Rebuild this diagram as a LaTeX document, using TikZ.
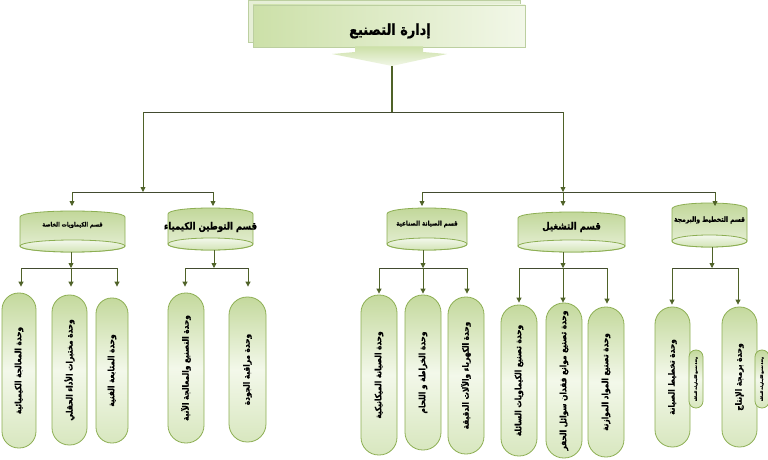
\documentclass[tikz,border=0pt]{standalone}
\usepackage{fontspec}
\newfontfamily\ar[Script=Arabic]{DejaVu Sans}
\newfontfamily\arc[Script=Arabic,FakeStretch=0.86,FakeBold=0.8]{DejaVu Sans}
\TeXXeTstate=1
\usetikzlibrary{arrows.meta,calc}
\definecolor{edgegreen}{HTML}{8CAE52}
\definecolor{wiregreen}{HTML}{4F6228}
\definecolor{busdark}{HTML}{424B30}
\definecolor{capA}{HTML}{C4D99D}
\definecolor{capB}{HTML}{F3F8EA}
\definecolor{capC}{HTML}{D8E7BF}
\definecolor{drumtop}{HTML}{C0D697}
\definecolor{drumbot}{HTML}{EAF2DC}
\definecolor{endA}{HTML}{F3F8EC}
\definecolor{endB}{HTML}{D3E4B6}
\definecolor{panelA}{HTML}{CCE0A8}
\definecolor{panelB}{HTML}{F2F7E8}
\definecolor{panelback}{HTML}{E6EFD6}
\definecolor{paneledge}{HTML}{BCCFA0}
\newcommand\RL[1]{\beginR #1\endR}
\newcommand\drum[8]{%
  \path[drumbody] (#2,#4+6) .. controls (#2,#4-2) and (#3,#4-2) .. (#3,#4+6) -- (#3,#5-6) .. controls (#3,#5+2) and (#2,#5+2) .. (#2,#5-6) -- cycle;
  \path[drumend] ({(#2+#3)/2},#5-6) ellipse ({(#3-#2)/2} and 6);
  \coordinate (#1t) at ({(#2+#3)/2},#4);
  \coordinate (#1b) at ({(#2+#3)/2},#5);
  \node[font=#7, inner sep=0pt] (#1) at ({(#2+#3)/2},#6) {\RL{#8}};
}
\begin{document}
\begin{tikzpicture}[x=1pt,y=-1pt,
  wirearrow/.style={draw=wiregreen, line width=0.8pt, -{Triangle[length=5pt,width=5pt]}},
  busline/.style={draw=busdark, line width=0.8pt},
  trunk/.style={draw=wiregreen, line width=2.2pt},
  drumbody/.style={draw=edgegreen, line width=0.8pt, top color=drumtop, bottom color=drumbot},
  drumend/.style={draw=edgegreen, line width=0.8pt, top color=endA, bottom color=endB},
  capsule/.style={rectangle, draw=edgegreen, line width=0.8pt, rotate=90,
    minimum height=#1pt, rounded corners=#1*0.49pt,
    top color=capA, bottom color=capC, middle color=capB, inner sep=1pt,
    font=\arc\bfseries\fontsize{8.6}{9}\selectfont},
  sidecap/.style={capsule=14, font=\arc\bfseries\fontsize{3.4}{4}\selectfont},
  backpanel/.style={fill=panelback, draw=paneledge, line width=0.6pt},
  frontpanel/.style={left color=panelA, right color=panelB, draw=paneledge, line width=0.6pt},
  calloutfill/.style={top color=panelA, bottom color=panelB},
]
\useasboundingbox (0,0) rectangle (768,460);

% ---- title block
\path[backpanel] (248,0) rectangle (520,42);
\node[frontpanel, minimum width=272pt, minimum height=42pt, inner sep=0pt] (titlebox) at (389,26) {};
\path[calloutfill] (355,46.5) -- (355,52) -- (332,54) -- (392,66) -- (447,54) -- (423,52) -- (423,46.5) -- cycle;
\node[font=\arc\bfseries\fontsize{15}{17}\selectfont, inner sep=0pt] (title) at (390,31) {\RL{إدارة التصنيع}};
\coordinate (tip) at (392,66);

% ---- top bus
\coordinate (busC) at (392,112);
\coordinate (busL) at (143,112);
\coordinate (busR) at (563,112);
\draw[trunk] (tip) -- (busC);
\draw[busline] (busL) -- (busR);
\coordinate (lhub) at (143,192);
\coordinate (rhub) at (563,192);
\draw[wirearrow] (busL) -- (lhub);
\draw[wirearrow] (busR) -- (rhub);
\coordinate (l1) at (72,192);
\coordinate (l2) at (213,192);
\coordinate (r1) at (422,192);
\coordinate (r3) at (715,192);
\draw[busline] (l1) -- (l2);
\draw[busline] (r1) -- (r3);

% ---- drums (sections)
\drum{dA}{20}{125}{211}{252}{225}{\arc\bfseries\fontsize{6}{7}\selectfont}{قسم الكيماويات الخاصة}
\drum{dB}{168}{253}{208}{250}{227}{\arc\bfseries\fontsize{10}{11}\selectfont}{قسم التوطين الكيمياء}
\drum{dC}{387}{467}{208}{250}{224}{\arc\bfseries\fontsize{6.6}{7}\selectfont}{قسم الصيانة الصناعية}
\drum{dD}{518}{625}{212}{252}{227}{\arc\bfseries\fontsize{10}{11}\selectfont}{قسم التشغيل}
\drum{dE}{672}{747}{203}{247}{220}{\arc\bfseries\fontsize{7}{8}\selectfont}{قسم التخطيط والبرمجة}

\draw[wirearrow, shorten >=5pt] (l1) -- (l1 |- dAt);
\draw[wirearrow, shorten >=2pt] (l2) -- (l2 |- dBt);
\draw[wirearrow, shorten >=2pt] (r1) -- (r1 |- dCt);
\draw[wirearrow, shorten >=6pt] (rhub) -- (rhub |- dDt);
\draw[wirearrow, shorten >=-3pt] (r3) -- (r3 |- dEt);

% ---- brackets under drums
\coordinate (aL) at (21,268);  \coordinate (aM) at (71,268);  \coordinate (aR) at (117,268);
\coordinate (bL) at (185,268); \coordinate (bM) at (214,268); \coordinate (bR) at (248,268);
\coordinate (cL) at (379,268); \coordinate (cM) at (423,268); \coordinate (cR) at (467,268);
\coordinate (dL) at (519,268); \coordinate (dM) at (563,268); \coordinate (dR) at (607,268);
\coordinate (eL) at (672,268); \coordinate (eM) at (712,268); \coordinate (eR) at (738,268);

\draw[wirearrow] (dAb -| aM) -- (aM);
\draw[wirearrow] (dBb -| bM) -- (bM);
\draw[wirearrow] (dCb -| cM) -- (cM);
\draw[wirearrow] (dDb -| dM) -- (dM);
\draw[wirearrow] (dEb -| eM) -- (eM);

\draw[busline] (aL) -- (aR);
\draw[busline] (bL) -- (bR);
\draw[busline] (cL) -- (cR);
\draw[busline] (dL) -- (dR);
\draw[busline] (eL) -- (eR);

% ---- capsules (units)
\node[capsule=34, minimum width=155pt] (A1) at (19,370.5) {\RL{وحدة المعالجة الكيميائية}};
\node[capsule=35, minimum width=150pt] (A2) at (69.5,370) {\RL{وحدة مختبرات الأداء الحقلي}};
\node[capsule=32, minimum width=145pt] (A3) at (112,370.5) {\RL{وحدة المتابعة الفنية}};

\node[capsule=36, minimum width=150pt] (B1) at (186,368) {\RL{وحدة التصنيع والمعالجة الآنية}};
\node[capsule=37, minimum width=145pt] (B2) at (247.5,369.5) {\RL{وحدة مراقبة الجودة}};

\node[capsule=36, minimum width=160pt] (C1) at (379,375) {\RL{وحدة الصيانة الميكانيكية}};
\node[capsule=36, minimum width=155pt] (C2) at (423,372.5) {\RL{وحدة الخراطة و اللحام}};
\node[capsule=36, minimum width=157pt] (C3) at (466,375.5) {\RL{وحدة الكهرباء والآلات الدقيقة}};

\node[capsule=36, minimum width=151pt] (D1) at (519,380.5) {\RL{وحدة تصنيع الكيماويات السائلة}};
\node[capsule=36, minimum width=155pt] (D2) at (564,380.5) {\RL{وحدة تصنيع موانع فقدان سوائل الحفر}};
\node[capsule=36, minimum width=150pt] (D3) at (606,382) {\RL{وحدة تصنيع المواد الموازنة}};

\node[capsule=35, minimum width=140pt] (E1) at (672.5,377) {\RL{وحدة تخطيط الصيانة}};
\node[capsule=35, minimum width=140pt] (E2) at (739.5,377) {\RL{وحدة برمجة الإنتاج}};
\node[sidecap, minimum width=58pt] (S1) at (696,379) {\RL{وحدة تصنيع الكيماويات السائلة}};
\node[sidecap, minimum width=58pt] (S2) at (762,379) {\RL{وحدة تصنيع الكيماويات السائلة}};

% ---- arrows to capsules
\draw[wirearrow, shorten >=6pt] (aL) -- (aL |- A1.east);
\draw[wirearrow, shorten >=8pt] (aM) -- (aM |- A2.east);
\draw[wirearrow, shorten >=11pt] (aR) -- (aR |- A3.east);
\draw[wirearrow, shorten >=6pt] (bL) -- (bL |- B1.east);
\draw[wirearrow, shorten >=10pt] (bR) -- (bR |- B2.east);
\draw[wirearrow, shorten >=1pt] (cL) -- (cL |- C1.east);
\draw[wirearrow, shorten >=1pt] (cM) -- (cM |- C2.east);
\draw[wirearrow, shorten >=3pt] (cR) -- (cR |- C3.east);
\draw[wirearrow, shorten >=2pt] (dL) -- (dL |- D1.east);
\draw[wirearrow, shorten >=0pt] (dM) -- (dM |- D2.east);
\draw[wirearrow, shorten >=3pt] (dR) -- (dR |- D3.east);
\draw[wirearrow, shorten >=2pt] (eL) -- (eL |- E1.east);
\draw[wirearrow, shorten >=2pt] (eR) -- (eR |- E2.east);
\end{tikzpicture}
\end{document}
